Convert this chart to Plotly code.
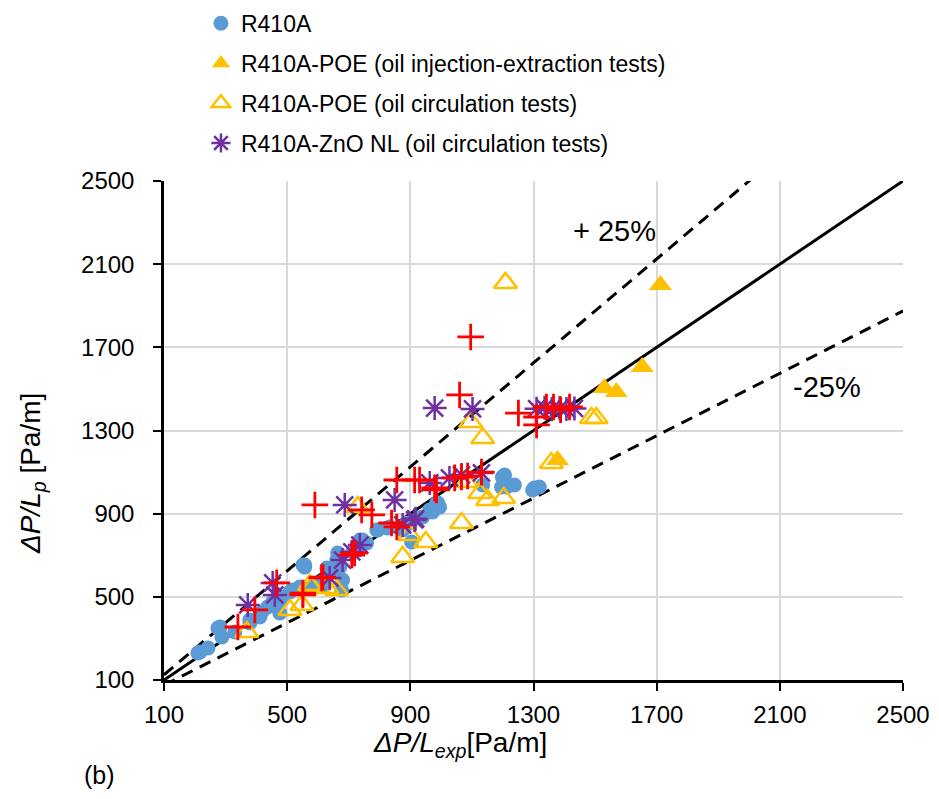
import numpy as np
import plotly.graph_objects as go

# R410A (pure refrigerant)
r410a_exp = [210, 217, 243, 275, 282, 288, 330, 379, 379, 411, 418, 437, 453, 476, 476, 483,
             509, 515, 541, 551, 557, 557, 580, 596, 622, 622, 629, 648, 661, 661, 664, 671,
             671, 677, 680, 713, 726, 736, 745, 758, 791, 794, 826, 833, 875, 888, 898, 904,
             930, 940, 963, 972, 985, 989, 995, 1135, 1196, 1199, 1206, 1212, 1238, 1297,
             1303, 1319]
r410a_pred = [230, 235, 254, 350, 355, 307, 331, 374, 389, 403, 427, 451, 475, 485, 422, 499,
              523, 533, 547, 653, 653, 643, 547, 567, 557, 581, 639, 629, 677, 629, 711, 701,
              643, 533, 581, 716, 740, 773, 773, 759, 822, 822, 831, 836, 822, 855, 855, 764,
              879, 884, 918, 908, 951, 951, 932, 1038, 1028, 1076, 1086, 1028, 1038, 1014,
              1024, 1028]

# R410A-POE, oil injection-extraction tests
poe_inj_exp = [1712, 1653, 1530, 1569, 1378]
poe_inj_pred = [2000, 1606, 1505, 1485, 1158]

# R410A-POE, oil circulation tests
poe_circ_exp = [1209, 1096, 1135, 1488, 1504, 1358, 1125, 1151, 1203, 1066, 1083, 729,
                898, 950, 875, 573, 661, 369, 509, 548, 580, 629]
poe_circ_pred = [2010, 1341, 1264, 1360, 1360, 1144, 999, 966, 975, 855, 1052, 932,
                 797, 764, 692, 557, 533, 331, 437, 461, 547, 543]

# R410A-ZnO NL, oil circulation tests
zno_exp = [979, 1102, 1310, 1336, 1359, 1385, 1407, 1433, 963, 1027, 1066, 1131, 687, 849,
           914, 875, 736, 710, 638, 453, 460, 372, 680, 917]
zno_pred = [1408, 1404, 1405, 1410, 1402, 1408, 1404, 1406, 1048, 1072, 1086, 1096, 942, 966,
            870, 846, 749, 716, 591, 567, 509, 461, 677, 875]

# unlabelled series (red crosses)
cross_exp = [1096, 1060, 1251, 1310, 1310, 1342, 1365, 1388, 1417, 979, 1044, 1066, 1086,
             1131, 930, 590, 742, 775, 856, 914, 985, 839, 856, 710, 719, 612, 551, 466,
             395, 340, 551, 616]
cross_pred = [1750, 1471, 1384, 1365, 1327, 1413, 1413, 1400, 1413, 1024, 1072, 1076, 1081,
              1100, 1062, 942, 918, 894, 1062, 1062, 1014, 855, 836, 701, 711, 591, 518, 567,
              437, 355, 509, 595]

ref_x = np.array([100, 2500])
band = 0.25

font = "Liberation Sans, Arial, sans-serif"
fig = go.Figure()

# parity line and +/-25% band
fig.add_trace(go.Scatter(x=ref_x, y=ref_x, mode='lines', line=dict(color='black', width=3),
                         showlegend=False, hoverinfo='skip'))
for f in (1 + band, 1 - band):
    fig.add_trace(go.Scatter(x=ref_x, y=ref_x * f, mode='lines',
                             line=dict(color='black', width=3, dash='12px,8px'),
                             showlegend=False, hoverinfo='skip'))

fig.add_trace(go.Scatter(x=r410a_exp, y=r410a_pred, mode='markers', name='R410A', legendgroup='a',
                         marker=dict(symbol='circle', size=15, color='#5B9BD5')))
fig.add_trace(go.Scatter(x=poe_inj_exp, y=poe_inj_pred, mode='markers', legendgroup='b',
                         name='R410A-POE (oil injection-extraction tests)',
                         marker=dict(symbol='triangle-up', size=20, color='#FFC000')))
fig.add_trace(go.Scatter(x=poe_circ_exp, y=poe_circ_pred, mode='markers', legendgroup='c',
                         name='R410A-POE (oil circulation tests)',
                         marker=dict(symbol='triangle-up-open', size=20, color='#FFC000',
                                     line=dict(width=2.5, color='#FFC000'))))
fig.add_trace(go.Scatter(x=zno_exp, y=zno_pred, mode='markers', legendgroup='d',
                         name='R410A-ZnO NL (oil circulation tests)',
                         marker=dict(symbol='asterisk-open', size=20, color='#7030A0',
                                     line=dict(width=2.5, color='#7030A0'))))
fig.add_trace(go.Scatter(x=cross_exp, y=cross_pred, mode='markers', showlegend=False,
                         marker=dict(symbol='cross-thin-open', size=19, color='#FF0000',
                                     line=dict(width=2.8, color='#FF0000'))))

fig.add_annotation(x=1563, y=2260, text='+ 25%', showarrow=False,
                   font=dict(size=29, color='black', family=font))
fig.add_annotation(x=2253, y=1509, text='-25%', showarrow=False,
                   font=dict(size=29, color='black', family=font))
fig.add_annotation(xref='paper', yref='paper', x=-0.087, y=-0.19, text='(b)', showarrow=False,
                   xanchor='center', yanchor='middle', font=dict(size=25, color='black', family=font))

# axis titles placed as annotations to match the original offsets
fig.add_annotation(xref='paper', yref='paper', x=0.4, y=-0.13, showarrow=False,
                   text='<i>ΔP/L<sub>exp</sub></i>[Pa/m]', xanchor='center', yanchor='middle',
                   font=dict(size=28, color='black', family=font))
fig.add_annotation(xref='paper', yref='paper', x=-0.177, y=0.413, showarrow=False, textangle=-90,
                   text='<i>ΔP/L<sub>p</sub></i> [Pa/m]', xanchor='center', yanchor='middle',
                   font=dict(size=28, color='black', family=font))

axis_common = dict(range=[100, 2500], tick0=100, dtick=400, showgrid=True, gridcolor='#D9D9D9',
                   gridwidth=2, showline=True, linecolor='black', linewidth=2.5, ticks='outside',
                   ticklen=8, tickwidth=2, tickcolor='black', zeroline=False,
                   tickfont=dict(size=24, color='black', family=font))

fig.update_xaxes(**axis_common, ticklabelstandoff=3)
fig.update_yaxes(**axis_common, ticklabelstandoff=14)

# page body adds ~8px offset, so margins are trimmed on the left/top
fig.update_layout(width=939, height=799, plot_bgcolor='white', paper_bgcolor='white',
                  margin=dict(l=156, r=44, t=173, b=127, autoexpand=False),
                  legend=dict(x=0.05, y=1.359, xanchor='left', yanchor='top', tracegroupgap=7,
                              font=dict(size=23, color='black', family=font),
                              bgcolor='rgba(0,0,0,0)'),
                  showlegend=True)

fig.write_html("out.html")
